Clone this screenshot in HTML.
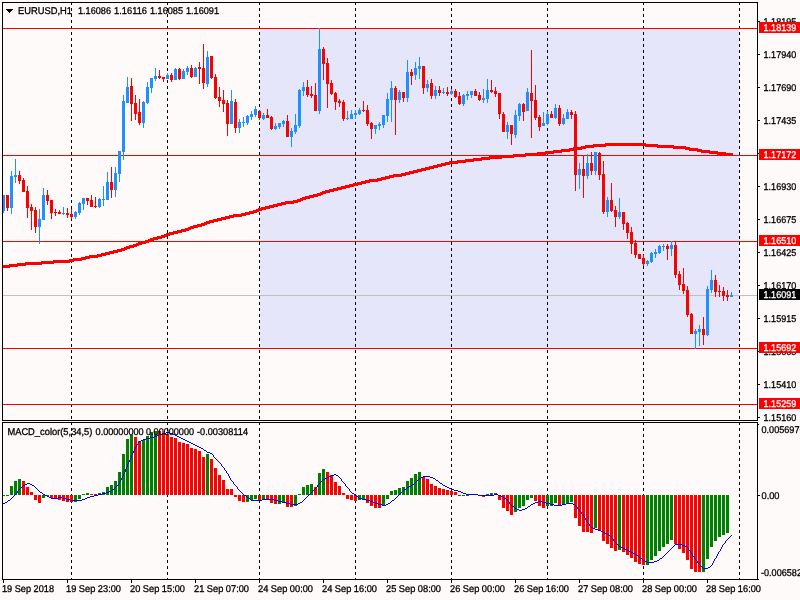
<!DOCTYPE html>
<html lang="en"><head><meta charset="utf-8"><title>EURUSD,H1</title>
<style>html,body{margin:0;padding:0;background:#FFFAFA;overflow:hidden}svg{display:block}text{font-family:"Liberation Sans", sans-serif;font-size:9.8px;fill:#000;stroke:#000;stroke-width:0.3px;text-rendering:geometricPrecision}.w{stroke:#fff}.w{fill:#fff}</style></head><body>
<svg width="800" height="600" viewBox="0 0 800 600">
<rect x="0" y="0" width="800" height="600" fill="#FFFAFA"/>
<g shape-rendering="crispEdges">
<rect x="260" y="29" width="479" height="319" fill="#E6E6FA"/>
<line x1="71.5" y1="2" x2="71.5" y2="420" stroke="#000" stroke-width="1" stroke-dasharray="3 3"/>
<line x1="71.5" y1="422" x2="71.5" y2="580" stroke="#000" stroke-width="1" stroke-dasharray="3 3" stroke-dashoffset="0"/>
<line x1="167.5" y1="2" x2="167.5" y2="420" stroke="#000" stroke-width="1" stroke-dasharray="3 3"/>
<line x1="167.5" y1="422" x2="167.5" y2="580" stroke="#000" stroke-width="1" stroke-dasharray="3 3" stroke-dashoffset="0"/>
<line x1="259.5" y1="2" x2="259.5" y2="420" stroke="#000" stroke-width="1" stroke-dasharray="3 3"/>
<line x1="259.5" y1="422" x2="259.5" y2="580" stroke="#000" stroke-width="1" stroke-dasharray="3 3" stroke-dashoffset="0"/>
<line x1="355.5" y1="2" x2="355.5" y2="420" stroke="#000" stroke-width="1" stroke-dasharray="3 3"/>
<line x1="355.5" y1="422" x2="355.5" y2="580" stroke="#000" stroke-width="1" stroke-dasharray="3 3" stroke-dashoffset="0"/>
<line x1="451.5" y1="2" x2="451.5" y2="420" stroke="#000" stroke-width="1" stroke-dasharray="3 3"/>
<line x1="451.5" y1="422" x2="451.5" y2="580" stroke="#000" stroke-width="1" stroke-dasharray="3 3" stroke-dashoffset="0"/>
<line x1="547.5" y1="2" x2="547.5" y2="420" stroke="#000" stroke-width="1" stroke-dasharray="3 3"/>
<line x1="547.5" y1="422" x2="547.5" y2="580" stroke="#000" stroke-width="1" stroke-dasharray="3 3" stroke-dashoffset="0"/>
<line x1="643.5" y1="2" x2="643.5" y2="420" stroke="#000" stroke-width="1" stroke-dasharray="3 3"/>
<line x1="643.5" y1="422" x2="643.5" y2="580" stroke="#000" stroke-width="1" stroke-dasharray="3 3" stroke-dashoffset="0"/>
<line x1="739.5" y1="2" x2="739.5" y2="420" stroke="#000" stroke-width="1" stroke-dasharray="3 3"/>
<line x1="739.5" y1="422" x2="739.5" y2="580" stroke="#000" stroke-width="1" stroke-dasharray="3 3" stroke-dashoffset="0"/>
<rect x="3" y="295" width="754" height="1" fill="#C0C0C0"/>
<rect x="3" y="28" width="754" height="1" fill="#FF0000"/>
<rect x="3" y="155" width="754" height="1" fill="#FF0000"/>
<rect x="3" y="241" width="754" height="1" fill="#FF0000"/>
<rect x="3" y="348" width="754" height="1" fill="#FF0000"/>
<rect x="3" y="404" width="754" height="1" fill="#FF0000"/>
<g id="candles">
<rect x="3" y="195" width="1" height="18" fill="#1E90FF"/>
<rect x="2" y="195" width="3" height="16" fill="#1E90FF"/>
<rect x="7" y="195" width="1" height="16" fill="#FF0000"/>
<rect x="6" y="195" width="3" height="13" fill="#FF0000"/>
<rect x="11" y="171" width="1" height="43" fill="#1E90FF"/>
<rect x="10" y="176" width="3" height="32" fill="#1E90FF"/>
<rect x="15" y="159" width="1" height="24" fill="#1E90FF"/>
<rect x="14" y="175" width="3" height="2" fill="#1E90FF"/>
<rect x="19" y="171" width="1" height="13" fill="#FF0000"/>
<rect x="18" y="175" width="3" height="6" fill="#FF0000"/>
<rect x="23" y="178" width="1" height="14" fill="#FF0000"/>
<rect x="22" y="180" width="3" height="12" fill="#FF0000"/>
<rect x="27" y="186" width="1" height="32" fill="#FF0000"/>
<rect x="26" y="191" width="3" height="17" fill="#FF0000"/>
<rect x="31" y="204" width="1" height="26" fill="#FF0000"/>
<rect x="30" y="207" width="3" height="4" fill="#FF0000"/>
<rect x="35" y="207" width="1" height="26" fill="#FF0000"/>
<rect x="34" y="210" width="3" height="17" fill="#FF0000"/>
<rect x="39" y="209" width="1" height="35" fill="#1E90FF"/>
<rect x="38" y="219" width="3" height="8" fill="#1E90FF"/>
<rect x="43" y="188" width="1" height="32" fill="#1E90FF"/>
<rect x="42" y="195" width="3" height="25" fill="#1E90FF"/>
<rect x="47" y="190" width="1" height="15" fill="#FF0000"/>
<rect x="46" y="195" width="3" height="6" fill="#FF0000"/>
<rect x="51" y="200" width="1" height="19" fill="#FF0000"/>
<rect x="50" y="200" width="3" height="13" fill="#FF0000"/>
<rect x="55" y="209" width="1" height="7" fill="#FF0000"/>
<rect x="54" y="212" width="3" height="1" fill="#FF0000"/>
<rect x="59" y="210" width="1" height="4" fill="#FF0000"/>
<rect x="58" y="212" width="3" height="2" fill="#FF0000"/>
<rect x="63" y="207" width="1" height="8" fill="#1E90FF"/>
<rect x="62" y="213" width="3" height="1" fill="#1E90FF"/>
<rect x="67" y="208" width="1" height="10" fill="#FF0000"/>
<rect x="66" y="213" width="3" height="2" fill="#FF0000"/>
<rect x="71" y="209" width="1" height="10" fill="#FF0000"/>
<rect x="70" y="214" width="3" height="3" fill="#FF0000"/>
<rect x="75" y="211" width="1" height="8" fill="#1E90FF"/>
<rect x="74" y="212" width="3" height="5" fill="#1E90FF"/>
<rect x="79" y="202" width="1" height="13" fill="#1E90FF"/>
<rect x="78" y="203" width="3" height="10" fill="#1E90FF"/>
<rect x="83" y="198" width="1" height="12" fill="#1E90FF"/>
<rect x="82" y="198" width="3" height="6" fill="#1E90FF"/>
<rect x="87" y="198" width="1" height="7" fill="#FF0000"/>
<rect x="86" y="198" width="3" height="3" fill="#FF0000"/>
<rect x="91" y="195" width="1" height="12" fill="#FF0000"/>
<rect x="90" y="200" width="3" height="7" fill="#FF0000"/>
<rect x="95" y="197" width="1" height="11" fill="#FF0000"/>
<rect x="94" y="206" width="3" height="1" fill="#FF0000"/>
<rect x="99" y="198" width="1" height="10" fill="#1E90FF"/>
<rect x="98" y="199" width="3" height="8" fill="#1E90FF"/>
<rect x="103" y="186" width="1" height="20" fill="#1E90FF"/>
<rect x="102" y="199" width="3" height="1" fill="#1E90FF"/>
<rect x="107" y="172" width="1" height="28" fill="#1E90FF"/>
<rect x="106" y="182" width="3" height="18" fill="#1E90FF"/>
<rect x="111" y="167" width="1" height="31" fill="#FF0000"/>
<rect x="110" y="182" width="3" height="8" fill="#FF0000"/>
<rect x="115" y="167" width="1" height="30" fill="#1E90FF"/>
<rect x="114" y="173" width="3" height="17" fill="#1E90FF"/>
<rect x="119" y="151" width="1" height="31" fill="#1E90FF"/>
<rect x="118" y="151" width="3" height="23" fill="#1E90FF"/>
<rect x="123" y="95" width="1" height="65" fill="#1E90FF"/>
<rect x="122" y="101" width="3" height="51" fill="#1E90FF"/>
<rect x="127" y="77" width="1" height="26" fill="#1E90FF"/>
<rect x="126" y="87" width="3" height="16" fill="#1E90FF"/>
<rect x="131" y="78" width="1" height="43" fill="#FF0000"/>
<rect x="130" y="86" width="3" height="18" fill="#FF0000"/>
<rect x="135" y="95" width="1" height="25" fill="#FF0000"/>
<rect x="134" y="103" width="3" height="11" fill="#FF0000"/>
<rect x="139" y="99" width="1" height="26" fill="#FF0000"/>
<rect x="138" y="112" width="3" height="11" fill="#FF0000"/>
<rect x="143" y="101" width="1" height="27" fill="#1E90FF"/>
<rect x="142" y="102" width="3" height="21" fill="#1E90FF"/>
<rect x="147" y="82" width="1" height="22" fill="#1E90FF"/>
<rect x="146" y="87" width="3" height="16" fill="#1E90FF"/>
<rect x="151" y="78" width="1" height="15" fill="#1E90FF"/>
<rect x="150" y="78" width="3" height="10" fill="#1E90FF"/>
<rect x="155" y="68" width="1" height="13" fill="#1E90FF"/>
<rect x="154" y="76" width="3" height="3" fill="#1E90FF"/>
<rect x="159" y="70" width="1" height="9" fill="#FF0000"/>
<rect x="158" y="76" width="3" height="2" fill="#FF0000"/>
<rect x="163" y="77" width="1" height="5" fill="#FF0000"/>
<rect x="162" y="77" width="3" height="2" fill="#FF0000"/>
<rect x="167" y="73" width="1" height="6" fill="#1E90FF"/>
<rect x="166" y="75" width="3" height="4" fill="#1E90FF"/>
<rect x="171" y="73" width="1" height="9" fill="#FF0000"/>
<rect x="170" y="75" width="3" height="5" fill="#FF0000"/>
<rect x="175" y="68" width="1" height="12" fill="#1E90FF"/>
<rect x="174" y="69" width="3" height="11" fill="#1E90FF"/>
<rect x="179" y="68" width="1" height="12" fill="#FF0000"/>
<rect x="178" y="69" width="3" height="10" fill="#FF0000"/>
<rect x="183" y="69" width="1" height="10" fill="#1E90FF"/>
<rect x="182" y="71" width="3" height="8" fill="#1E90FF"/>
<rect x="187" y="66" width="1" height="9" fill="#1E90FF"/>
<rect x="186" y="68" width="3" height="4" fill="#1E90FF"/>
<rect x="191" y="65" width="1" height="13" fill="#FF0000"/>
<rect x="190" y="68" width="3" height="9" fill="#FF0000"/>
<rect x="195" y="67" width="1" height="10" fill="#1E90FF"/>
<rect x="194" y="68" width="3" height="9" fill="#1E90FF"/>
<rect x="199" y="62" width="1" height="22" fill="#FF0000"/>
<rect x="198" y="67" width="3" height="2" fill="#FF0000"/>
<rect x="203" y="44" width="1" height="45" fill="#FF0000"/>
<rect x="202" y="68" width="3" height="15" fill="#FF0000"/>
<rect x="207" y="51" width="1" height="36" fill="#1E90FF"/>
<rect x="206" y="57" width="3" height="27" fill="#1E90FF"/>
<rect x="211" y="56" width="1" height="23" fill="#FF0000"/>
<rect x="210" y="56" width="3" height="22" fill="#FF0000"/>
<rect x="215" y="74" width="1" height="25" fill="#FF0000"/>
<rect x="214" y="77" width="3" height="21" fill="#FF0000"/>
<rect x="219" y="87" width="1" height="20" fill="#FF0000"/>
<rect x="218" y="97" width="3" height="4" fill="#FF0000"/>
<rect x="223" y="90" width="1" height="22" fill="#FF0000"/>
<rect x="222" y="100" width="3" height="4" fill="#FF0000"/>
<rect x="227" y="100" width="1" height="36" fill="#FF0000"/>
<rect x="226" y="103" width="3" height="21" fill="#FF0000"/>
<rect x="231" y="90" width="1" height="34" fill="#1E90FF"/>
<rect x="230" y="101" width="3" height="23" fill="#1E90FF"/>
<rect x="235" y="99" width="1" height="34" fill="#FF0000"/>
<rect x="234" y="102" width="3" height="26" fill="#FF0000"/>
<rect x="239" y="119" width="1" height="14" fill="#1E90FF"/>
<rect x="238" y="122" width="3" height="6" fill="#1E90FF"/>
<rect x="243" y="117" width="1" height="10" fill="#1E90FF"/>
<rect x="242" y="122" width="3" height="1" fill="#1E90FF"/>
<rect x="247" y="115" width="1" height="10" fill="#1E90FF"/>
<rect x="246" y="116" width="3" height="7" fill="#1E90FF"/>
<rect x="251" y="111" width="1" height="9" fill="#1E90FF"/>
<rect x="250" y="114" width="3" height="3" fill="#1E90FF"/>
<rect x="255" y="106" width="1" height="11" fill="#1E90FF"/>
<rect x="254" y="109" width="3" height="6" fill="#1E90FF"/>
<rect x="259" y="110" width="1" height="10" fill="#FF0000"/>
<rect x="258" y="111" width="3" height="7" fill="#FF0000"/>
<rect x="263" y="113" width="1" height="7" fill="#1E90FF"/>
<rect x="262" y="115" width="3" height="4" fill="#1E90FF"/>
<rect x="267" y="109" width="1" height="9" fill="#FF0000"/>
<rect x="266" y="115" width="3" height="3" fill="#FF0000"/>
<rect x="271" y="116" width="1" height="14" fill="#FF0000"/>
<rect x="270" y="117" width="3" height="12" fill="#FF0000"/>
<rect x="275" y="123" width="1" height="7" fill="#1E90FF"/>
<rect x="274" y="126" width="3" height="3" fill="#1E90FF"/>
<rect x="279" y="123" width="1" height="6" fill="#1E90FF"/>
<rect x="278" y="123" width="3" height="4" fill="#1E90FF"/>
<rect x="283" y="120" width="1" height="7" fill="#1E90FF"/>
<rect x="282" y="121" width="3" height="3" fill="#1E90FF"/>
<rect x="287" y="115" width="1" height="22" fill="#FF0000"/>
<rect x="286" y="121" width="3" height="16" fill="#FF0000"/>
<rect x="291" y="128" width="1" height="19" fill="#1E90FF"/>
<rect x="290" y="131" width="3" height="6" fill="#1E90FF"/>
<rect x="295" y="114" width="1" height="20" fill="#1E90FF"/>
<rect x="294" y="125" width="3" height="7" fill="#1E90FF"/>
<rect x="299" y="89" width="1" height="39" fill="#1E90FF"/>
<rect x="298" y="90" width="3" height="36" fill="#1E90FF"/>
<rect x="303" y="82" width="1" height="14" fill="#1E90FF"/>
<rect x="302" y="87" width="3" height="4" fill="#1E90FF"/>
<rect x="307" y="80" width="1" height="17" fill="#FF0000"/>
<rect x="306" y="87" width="3" height="8" fill="#FF0000"/>
<rect x="311" y="86" width="1" height="12" fill="#FF0000"/>
<rect x="310" y="94" width="3" height="2" fill="#FF0000"/>
<rect x="315" y="83" width="1" height="28" fill="#FF0000"/>
<rect x="314" y="95" width="3" height="16" fill="#FF0000"/>
<rect x="319" y="28" width="1" height="86" fill="#1E90FF"/>
<rect x="318" y="49" width="3" height="62" fill="#1E90FF"/>
<rect x="323" y="47" width="1" height="33" fill="#FF0000"/>
<rect x="322" y="49" width="3" height="15" fill="#FF0000"/>
<rect x="327" y="58" width="1" height="50" fill="#FF0000"/>
<rect x="326" y="63" width="3" height="21" fill="#FF0000"/>
<rect x="331" y="80" width="1" height="15" fill="#FF0000"/>
<rect x="330" y="83" width="3" height="11" fill="#FF0000"/>
<rect x="335" y="92" width="1" height="18" fill="#FF0000"/>
<rect x="334" y="93" width="3" height="9" fill="#FF0000"/>
<rect x="339" y="99" width="1" height="8" fill="#FF0000"/>
<rect x="338" y="101" width="3" height="2" fill="#FF0000"/>
<rect x="343" y="100" width="1" height="21" fill="#FF0000"/>
<rect x="342" y="102" width="3" height="17" fill="#FF0000"/>
<rect x="347" y="111" width="1" height="9" fill="#1E90FF"/>
<rect x="346" y="118" width="3" height="1" fill="#1E90FF"/>
<rect x="351" y="110" width="1" height="9" fill="#1E90FF"/>
<rect x="350" y="114" width="3" height="5" fill="#1E90FF"/>
<rect x="355" y="110" width="1" height="9" fill="#1E90FF"/>
<rect x="354" y="113" width="3" height="2" fill="#1E90FF"/>
<rect x="359" y="108" width="1" height="7" fill="#1E90FF"/>
<rect x="358" y="110" width="3" height="4" fill="#1E90FF"/>
<rect x="363" y="101" width="1" height="11" fill="#FF0000"/>
<rect x="362" y="110" width="3" height="1" fill="#FF0000"/>
<rect x="367" y="105" width="1" height="21" fill="#FF0000"/>
<rect x="366" y="110" width="3" height="14" fill="#FF0000"/>
<rect x="371" y="122" width="1" height="17" fill="#FF0000"/>
<rect x="370" y="123" width="3" height="6" fill="#FF0000"/>
<rect x="375" y="125" width="1" height="9" fill="#1E90FF"/>
<rect x="374" y="125" width="3" height="4" fill="#1E90FF"/>
<rect x="379" y="122" width="1" height="8" fill="#1E90FF"/>
<rect x="378" y="124" width="3" height="2" fill="#1E90FF"/>
<rect x="383" y="115" width="1" height="13" fill="#1E90FF"/>
<rect x="382" y="115" width="3" height="10" fill="#1E90FF"/>
<rect x="387" y="93" width="1" height="29" fill="#1E90FF"/>
<rect x="386" y="99" width="3" height="17" fill="#1E90FF"/>
<rect x="391" y="81" width="1" height="41" fill="#1E90FF"/>
<rect x="390" y="88" width="3" height="12" fill="#1E90FF"/>
<rect x="395" y="86" width="1" height="49" fill="#FF0000"/>
<rect x="394" y="88" width="3" height="12" fill="#FF0000"/>
<rect x="399" y="90" width="1" height="13" fill="#1E90FF"/>
<rect x="398" y="92" width="3" height="8" fill="#1E90FF"/>
<rect x="403" y="92" width="1" height="10" fill="#FF0000"/>
<rect x="402" y="92" width="3" height="6" fill="#FF0000"/>
<rect x="407" y="60" width="1" height="42" fill="#1E90FF"/>
<rect x="406" y="72" width="3" height="26" fill="#1E90FF"/>
<rect x="411" y="69" width="1" height="16" fill="#FF0000"/>
<rect x="410" y="72" width="3" height="4" fill="#FF0000"/>
<rect x="415" y="62" width="1" height="18" fill="#1E90FF"/>
<rect x="414" y="68" width="3" height="7" fill="#1E90FF"/>
<rect x="419" y="57" width="1" height="22" fill="#1E90FF"/>
<rect x="418" y="66" width="3" height="3" fill="#1E90FF"/>
<rect x="423" y="66" width="1" height="28" fill="#FF0000"/>
<rect x="422" y="66" width="3" height="22" fill="#FF0000"/>
<rect x="427" y="80" width="1" height="12" fill="#1E90FF"/>
<rect x="426" y="84" width="3" height="4" fill="#1E90FF"/>
<rect x="431" y="79" width="1" height="20" fill="#FF0000"/>
<rect x="430" y="83" width="3" height="13" fill="#FF0000"/>
<rect x="435" y="86" width="1" height="13" fill="#1E90FF"/>
<rect x="434" y="90" width="3" height="6" fill="#1E90FF"/>
<rect x="439" y="86" width="1" height="10" fill="#FF0000"/>
<rect x="438" y="90" width="3" height="3" fill="#FF0000"/>
<rect x="443" y="88" width="1" height="6" fill="#1E90FF"/>
<rect x="442" y="92" width="3" height="1" fill="#1E90FF"/>
<rect x="447" y="87" width="1" height="9" fill="#FF0000"/>
<rect x="446" y="92" width="3" height="2" fill="#FF0000"/>
<rect x="451" y="89" width="1" height="6" fill="#1E90FF"/>
<rect x="450" y="91" width="3" height="3" fill="#1E90FF"/>
<rect x="455" y="89" width="1" height="9" fill="#FF0000"/>
<rect x="454" y="91" width="3" height="6" fill="#FF0000"/>
<rect x="459" y="92" width="1" height="13" fill="#FF0000"/>
<rect x="458" y="96" width="3" height="8" fill="#FF0000"/>
<rect x="463" y="94" width="1" height="12" fill="#1E90FF"/>
<rect x="462" y="95" width="3" height="9" fill="#1E90FF"/>
<rect x="467" y="91" width="1" height="9" fill="#1E90FF"/>
<rect x="466" y="94" width="3" height="2" fill="#1E90FF"/>
<rect x="471" y="91" width="1" height="7" fill="#1E90FF"/>
<rect x="470" y="91" width="3" height="4" fill="#1E90FF"/>
<rect x="475" y="89" width="1" height="7" fill="#FF0000"/>
<rect x="474" y="91" width="3" height="5" fill="#FF0000"/>
<rect x="479" y="92" width="1" height="9" fill="#FF0000"/>
<rect x="478" y="95" width="3" height="5" fill="#FF0000"/>
<rect x="483" y="89" width="1" height="14" fill="#1E90FF"/>
<rect x="482" y="98" width="3" height="2" fill="#1E90FF"/>
<rect x="487" y="79" width="1" height="24" fill="#1E90FF"/>
<rect x="486" y="90" width="3" height="9" fill="#1E90FF"/>
<rect x="491" y="80" width="1" height="13" fill="#FF0000"/>
<rect x="490" y="90" width="3" height="2" fill="#FF0000"/>
<rect x="495" y="87" width="1" height="10" fill="#FF0000"/>
<rect x="494" y="91" width="3" height="3" fill="#FF0000"/>
<rect x="499" y="93" width="1" height="26" fill="#FF0000"/>
<rect x="498" y="93" width="3" height="21" fill="#FF0000"/>
<rect x="503" y="112" width="1" height="20" fill="#FF0000"/>
<rect x="502" y="114" width="3" height="18" fill="#FF0000"/>
<rect x="507" y="122" width="1" height="17" fill="#1E90FF"/>
<rect x="506" y="125" width="3" height="7" fill="#1E90FF"/>
<rect x="511" y="125" width="1" height="20" fill="#FF0000"/>
<rect x="510" y="125" width="3" height="9" fill="#FF0000"/>
<rect x="515" y="110" width="1" height="28" fill="#1E90FF"/>
<rect x="514" y="115" width="3" height="20" fill="#1E90FF"/>
<rect x="519" y="103" width="1" height="18" fill="#1E90FF"/>
<rect x="518" y="104" width="3" height="12" fill="#1E90FF"/>
<rect x="523" y="103" width="1" height="18" fill="#FF0000"/>
<rect x="522" y="104" width="3" height="8" fill="#FF0000"/>
<rect x="527" y="88" width="1" height="23" fill="#1E90FF"/>
<rect x="526" y="92" width="3" height="19" fill="#1E90FF"/>
<rect x="531" y="50" width="1" height="88" fill="#FF0000"/>
<rect x="530" y="93" width="3" height="8" fill="#FF0000"/>
<rect x="535" y="85" width="1" height="35" fill="#FF0000"/>
<rect x="534" y="100" width="3" height="18" fill="#FF0000"/>
<rect x="539" y="115" width="1" height="16" fill="#FF0000"/>
<rect x="538" y="117" width="3" height="10" fill="#FF0000"/>
<rect x="543" y="112" width="1" height="14" fill="#1E90FF"/>
<rect x="542" y="123" width="3" height="3" fill="#1E90FF"/>
<rect x="547" y="111" width="1" height="14" fill="#1E90FF"/>
<rect x="546" y="114" width="3" height="10" fill="#1E90FF"/>
<rect x="551" y="111" width="1" height="7" fill="#FF0000"/>
<rect x="550" y="114" width="3" height="4" fill="#FF0000"/>
<rect x="555" y="104" width="1" height="15" fill="#1E90FF"/>
<rect x="554" y="108" width="3" height="10" fill="#1E90FF"/>
<rect x="559" y="105" width="1" height="21" fill="#FF0000"/>
<rect x="558" y="108" width="3" height="16" fill="#FF0000"/>
<rect x="563" y="114" width="1" height="11" fill="#1E90FF"/>
<rect x="562" y="118" width="3" height="6" fill="#1E90FF"/>
<rect x="567" y="109" width="1" height="10" fill="#1E90FF"/>
<rect x="566" y="112" width="3" height="7" fill="#1E90FF"/>
<rect x="571" y="110" width="1" height="9" fill="#FF0000"/>
<rect x="570" y="112" width="3" height="3" fill="#FF0000"/>
<rect x="575" y="111" width="1" height="80" fill="#FF0000"/>
<rect x="574" y="114" width="3" height="61" fill="#FF0000"/>
<rect x="579" y="163" width="1" height="26" fill="#1E90FF"/>
<rect x="578" y="169" width="3" height="6" fill="#1E90FF"/>
<rect x="583" y="156" width="1" height="42" fill="#FF0000"/>
<rect x="582" y="169" width="3" height="7" fill="#FF0000"/>
<rect x="587" y="154" width="1" height="25" fill="#1E90FF"/>
<rect x="586" y="163" width="3" height="13" fill="#1E90FF"/>
<rect x="591" y="152" width="1" height="23" fill="#FF0000"/>
<rect x="590" y="163" width="3" height="8" fill="#FF0000"/>
<rect x="595" y="152" width="1" height="23" fill="#1E90FF"/>
<rect x="594" y="152" width="3" height="19" fill="#1E90FF"/>
<rect x="599" y="152" width="1" height="28" fill="#FF0000"/>
<rect x="598" y="153" width="3" height="22" fill="#FF0000"/>
<rect x="603" y="161" width="1" height="53" fill="#FF0000"/>
<rect x="602" y="174" width="3" height="38" fill="#FF0000"/>
<rect x="607" y="197" width="1" height="20" fill="#1E90FF"/>
<rect x="606" y="200" width="3" height="12" fill="#1E90FF"/>
<rect x="611" y="183" width="1" height="29" fill="#FF0000"/>
<rect x="610" y="200" width="3" height="11" fill="#FF0000"/>
<rect x="615" y="206" width="1" height="21" fill="#FF0000"/>
<rect x="614" y="210" width="3" height="7" fill="#FF0000"/>
<rect x="619" y="198" width="1" height="21" fill="#1E90FF"/>
<rect x="618" y="212" width="3" height="5" fill="#1E90FF"/>
<rect x="623" y="212" width="1" height="18" fill="#FF0000"/>
<rect x="622" y="212" width="3" height="12" fill="#FF0000"/>
<rect x="627" y="222" width="1" height="17" fill="#FF0000"/>
<rect x="626" y="223" width="3" height="10" fill="#FF0000"/>
<rect x="631" y="227" width="1" height="27" fill="#FF0000"/>
<rect x="630" y="232" width="3" height="12" fill="#FF0000"/>
<rect x="635" y="240" width="1" height="18" fill="#FF0000"/>
<rect x="634" y="243" width="3" height="12" fill="#FF0000"/>
<rect x="639" y="254" width="1" height="5" fill="#FF0000"/>
<rect x="638" y="254" width="3" height="5" fill="#FF0000"/>
<rect x="643" y="255" width="1" height="11" fill="#FF0000"/>
<rect x="642" y="258" width="3" height="6" fill="#FF0000"/>
<rect x="647" y="260" width="1" height="6" fill="#1E90FF"/>
<rect x="646" y="261" width="3" height="3" fill="#1E90FF"/>
<rect x="651" y="252" width="1" height="11" fill="#1E90FF"/>
<rect x="650" y="253" width="3" height="9" fill="#1E90FF"/>
<rect x="655" y="249" width="1" height="9" fill="#1E90FF"/>
<rect x="654" y="252" width="3" height="2" fill="#1E90FF"/>
<rect x="659" y="245" width="1" height="9" fill="#1E90FF"/>
<rect x="658" y="246" width="3" height="7" fill="#1E90FF"/>
<rect x="663" y="244" width="1" height="7" fill="#1E90FF"/>
<rect x="662" y="246" width="3" height="1" fill="#1E90FF"/>
<rect x="667" y="244" width="1" height="16" fill="#FF0000"/>
<rect x="666" y="246" width="3" height="3" fill="#FF0000"/>
<rect x="671" y="241" width="1" height="15" fill="#1E90FF"/>
<rect x="670" y="245" width="3" height="4" fill="#1E90FF"/>
<rect x="675" y="242" width="1" height="36" fill="#FF0000"/>
<rect x="674" y="245" width="3" height="30" fill="#FF0000"/>
<rect x="679" y="271" width="1" height="19" fill="#FF0000"/>
<rect x="678" y="274" width="3" height="11" fill="#FF0000"/>
<rect x="683" y="268" width="1" height="26" fill="#FF0000"/>
<rect x="682" y="284" width="3" height="7" fill="#FF0000"/>
<rect x="687" y="286" width="1" height="31" fill="#FF0000"/>
<rect x="686" y="290" width="3" height="25" fill="#FF0000"/>
<rect x="691" y="313" width="1" height="21" fill="#FF0000"/>
<rect x="690" y="314" width="3" height="20" fill="#FF0000"/>
<rect x="695" y="329" width="1" height="20" fill="#1E90FF"/>
<rect x="694" y="331" width="3" height="3" fill="#1E90FF"/>
<rect x="699" y="325" width="1" height="21" fill="#1E90FF"/>
<rect x="698" y="329" width="3" height="3" fill="#1E90FF"/>
<rect x="703" y="317" width="1" height="28" fill="#FF0000"/>
<rect x="702" y="329" width="3" height="6" fill="#FF0000"/>
<rect x="707" y="286" width="1" height="50" fill="#1E90FF"/>
<rect x="706" y="289" width="3" height="46" fill="#1E90FF"/>
<rect x="711" y="270" width="1" height="23" fill="#1E90FF"/>
<rect x="710" y="280" width="3" height="10" fill="#1E90FF"/>
<rect x="715" y="275" width="1" height="22" fill="#FF0000"/>
<rect x="714" y="280" width="3" height="12" fill="#FF0000"/>
<rect x="719" y="285" width="1" height="12" fill="#FF0000"/>
<rect x="718" y="291" width="3" height="1" fill="#FF0000"/>
<rect x="723" y="287" width="1" height="14" fill="#FF0000"/>
<rect x="722" y="291" width="3" height="5" fill="#FF0000"/>
<rect x="727" y="290" width="1" height="11" fill="#FF0000"/>
<rect x="726" y="295" width="3" height="2" fill="#FF0000"/>
<rect x="731" y="292" width="1" height="5" fill="#1E90FF"/>
<rect x="730" y="295" width="3" height="2" fill="#1E90FF"/>
</g>
<path d="M3 265h6v3h-6zM9 264h1v4h-1zM10 264h7v3h-7zM17 263h1v4h-1zM18 263h7v3h-7zM25 262h1v4h-1zM26 262h15v3h-15zM41 261h1v4h-1zM42 261h11v3h-11zM53 260h1v4h-1zM54 260h15v3h-15zM69 259h1v4h-1zM70 259h3v3h-3zM73 258h1v4h-1zM74 258h7v3h-7zM81 257h1v4h-1zM82 257h3v3h-3zM85 256h1v4h-1zM86 256h3v3h-3zM89 255h1v4h-1zM90 255h7v3h-7zM97 254h1v4h-1zM98 254h3v3h-3zM101 253h1v4h-1zM102 253h3v3h-3zM105 252h1v4h-1zM106 252h3v3h-3zM109 251h1v4h-1zM110 251h3v3h-3zM113 250h1v4h-1zM114 250h3v3h-3zM117 249h1v4h-1zM118 249h3v3h-3zM121 248h1v4h-1zM122 248h2v3h-2zM124 247h1v4h-1zM125 247h1v3h-1zM126 246h1v4h-1zM127 246h2v3h-2zM129 245h1v4h-1zM130 245h3v3h-3zM133 244h1v4h-1zM134 244h2v3h-2zM136 243h1v4h-1zM137 243h1v3h-1zM138 242h1v4h-1zM139 242h2v3h-2zM141 241h1v4h-1zM142 241h3v3h-3zM145 240h1v4h-1zM146 240h2v3h-2zM148 239h1v4h-1zM149 239h1v3h-1zM150 238h1v4h-1zM151 238h2v3h-2zM153 237h1v4h-1zM154 237h3v3h-3zM157 236h1v4h-1zM158 236h3v3h-3zM161 235h1v4h-1zM162 235h2v3h-2zM164 234h1v4h-1zM165 234h1v3h-1zM166 233h1v4h-1zM167 233h2v3h-2zM169 232h1v4h-1zM170 232h3v3h-3zM173 231h1v4h-1zM174 231h3v3h-3zM177 230h1v4h-1zM178 230h3v3h-3zM181 229h1v4h-1zM182 229h3v3h-3zM185 228h1v4h-1zM186 228h2v3h-2zM188 227h1v4h-1zM189 227h1v3h-1zM190 226h1v4h-1zM191 226h2v3h-2zM193 225h1v4h-1zM194 225h3v3h-3zM197 224h1v4h-1zM198 224h3v3h-3zM201 223h1v4h-1zM202 223h2v3h-2zM204 222h1v4h-1zM205 222h1v3h-1zM206 221h1v4h-1zM207 221h2v3h-2zM209 220h1v4h-1zM210 220h3v3h-3zM213 219h1v4h-1zM214 219h3v3h-3zM217 218h1v4h-1zM218 218h3v3h-3zM221 217h1v4h-1zM222 217h3v3h-3zM225 216h1v4h-1zM226 216h3v3h-3zM229 215h1v4h-1zM230 215h3v3h-3zM233 214h1v4h-1zM234 214h7v3h-7zM241 213h1v4h-1zM242 213h3v3h-3zM245 212h1v4h-1zM246 212h3v3h-3zM249 211h1v4h-1zM250 211h3v3h-3zM253 210h1v4h-1zM254 210h2v3h-2zM256 209h1v4h-1zM257 209h1v3h-1zM258 208h1v4h-1zM259 208h2v3h-2zM261 207h1v4h-1zM262 207h3v3h-3zM265 206h1v4h-1zM266 206h3v3h-3zM269 205h1v4h-1zM270 205h3v3h-3zM273 204h1v4h-1zM274 204h3v3h-3zM277 203h1v4h-1zM278 203h3v3h-3zM281 202h1v4h-1zM282 202h3v3h-3zM285 201h1v4h-1zM286 201h7v3h-7zM293 200h1v4h-1zM294 200h3v3h-3zM297 199h1v4h-1zM298 199h2v3h-2zM300 198h1v4h-1zM301 198h1v3h-1zM302 197h1v4h-1zM303 197h2v3h-2zM305 196h1v4h-1zM306 196h3v3h-3zM309 195h1v4h-1zM310 195h3v3h-3zM313 194h1v4h-1zM314 194h3v3h-3zM317 193h1v4h-1zM318 193h2v3h-2zM320 192h1v4h-1zM321 192h1v3h-1zM322 191h1v4h-1zM323 191h2v3h-2zM325 190h1v4h-1zM326 190h3v3h-3zM329 189h1v4h-1zM330 189h3v3h-3zM333 188h1v4h-1zM334 188h3v3h-3zM337 187h1v4h-1zM338 187h3v3h-3zM341 186h1v4h-1zM342 186h3v3h-3zM345 185h1v4h-1zM346 185h3v3h-3zM349 184h1v4h-1zM350 184h3v3h-3zM353 183h1v4h-1zM354 183h3v3h-3zM357 182h1v4h-1zM358 182h3v3h-3zM361 181h1v4h-1zM362 181h3v3h-3zM365 180h1v4h-1zM366 180h3v3h-3zM369 179h1v4h-1zM370 179h7v3h-7zM377 178h1v4h-1zM378 178h3v3h-3zM381 177h1v4h-1zM382 177h3v3h-3zM385 176h1v4h-1zM386 176h3v3h-3zM389 175h1v4h-1zM390 175h3v3h-3zM393 174h1v4h-1zM394 174h7v3h-7zM401 173h1v4h-1zM402 173h3v3h-3zM405 172h1v4h-1zM406 172h3v3h-3zM409 171h1v4h-1zM410 171h3v3h-3zM413 170h1v4h-1zM414 170h3v3h-3zM417 169h1v4h-1zM418 169h3v3h-3zM421 168h1v4h-1zM422 168h3v3h-3zM425 167h1v4h-1zM426 167h3v3h-3zM429 166h1v4h-1zM430 166h3v3h-3zM433 165h1v4h-1zM434 165h3v3h-3zM437 164h1v4h-1zM438 164h3v3h-3zM441 163h1v4h-1zM442 163h3v3h-3zM445 162h1v4h-1zM446 162h3v3h-3zM449 161h1v4h-1zM450 161h7v3h-7zM457 160h1v4h-1zM458 160h7v3h-7zM465 159h1v4h-1zM466 159h7v3h-7zM473 158h1v4h-1zM474 158h7v3h-7zM481 157h1v4h-1zM482 157h7v3h-7zM489 156h1v4h-1zM490 156h11v3h-11zM501 155h1v4h-1zM502 155h11v3h-11zM513 154h1v4h-1zM514 154h11v3h-11zM525 153h1v4h-1zM526 153h11v3h-11zM537 152h1v4h-1zM538 152h7v3h-7zM545 151h1v4h-1zM546 151h7v3h-7zM553 150h1v4h-1zM554 150h7v3h-7zM561 149h1v4h-1zM562 149h7v3h-7zM569 148h1v4h-1zM570 148h3v3h-3zM573 147h1v4h-1zM574 147h7v3h-7zM581 146h1v4h-1zM582 146h3v3h-3zM585 145h1v4h-1zM586 145h7v3h-7zM593 144h1v4h-1zM594 144h11v3h-11zM605 143h1v4h-1zM606 143h39v3h-39zM645 143h1v4h-1zM646 144h11v3h-11zM657 144h1v4h-1zM658 145h15v3h-15zM673 145h1v4h-1zM674 146h11v3h-11zM685 146h1v4h-1zM686 147h3v3h-3zM689 147h1v4h-1zM690 148h7v3h-7zM697 148h1v4h-1zM698 149h3v3h-3zM701 149h1v4h-1zM702 150h7v3h-7zM709 150h1v4h-1zM710 151h7v3h-7zM717 151h1v4h-1zM718 152h7v3h-7zM725 152h1v4h-1zM726 153h7v3h-7z" fill="#FF0000"/>
<g id="macd">
<rect x="2" y="495" width="3" height="1" fill="#008000"/>
<rect x="6" y="495" width="3" height="1" fill="#008000"/>
<rect x="10" y="486" width="3" height="9" fill="#008000"/>
<rect x="14" y="481" width="3" height="14" fill="#008000"/>
<rect x="18" y="479" width="3" height="16" fill="#008000"/>
<rect x="22" y="481" width="3" height="14" fill="#FF0000"/>
<rect x="26" y="487" width="3" height="8" fill="#FF0000"/>
<rect x="30" y="492" width="3" height="3" fill="#FF0000"/>
<rect x="34" y="495" width="3" height="5" fill="#FF0000"/>
<rect x="38" y="495" width="3" height="8" fill="#FF0000"/>
<rect x="42" y="495" width="3" height="3" fill="#008000"/>
<rect x="46" y="495" width="3" height="1" fill="#008000"/>
<rect x="50" y="495" width="3" height="3" fill="#FF0000"/>
<rect x="54" y="495" width="3" height="3" fill="#FF0000"/>
<rect x="58" y="495" width="3" height="5" fill="#FF0000"/>
<rect x="62" y="495" width="3" height="6" fill="#FF0000"/>
<rect x="66" y="495" width="3" height="7" fill="#FF0000"/>
<rect x="70" y="495" width="3" height="7" fill="#FF0000"/>
<rect x="74" y="495" width="3" height="7" fill="#008000"/>
<rect x="78" y="495" width="3" height="4" fill="#008000"/>
<rect x="82" y="494" width="3" height="1" fill="#008000"/>
<rect x="86" y="493" width="3" height="2" fill="#008000"/>
<rect x="90" y="494" width="3" height="1" fill="#FF0000"/>
<rect x="94" y="494" width="3" height="1" fill="#FF0000"/>
<rect x="98" y="493" width="3" height="2" fill="#008000"/>
<rect x="102" y="492" width="3" height="3" fill="#008000"/>
<rect x="106" y="487" width="3" height="8" fill="#008000"/>
<rect x="110" y="485" width="3" height="10" fill="#008000"/>
<rect x="114" y="481" width="3" height="14" fill="#008000"/>
<rect x="118" y="472" width="3" height="23" fill="#008000"/>
<rect x="122" y="454" width="3" height="41" fill="#008000"/>
<rect x="126" y="439" width="3" height="56" fill="#008000"/>
<rect x="130" y="435" width="3" height="60" fill="#008000"/>
<rect x="134" y="437" width="3" height="58" fill="#FF0000"/>
<rect x="138" y="441" width="3" height="54" fill="#FF0000"/>
<rect x="142" y="440" width="3" height="55" fill="#008000"/>
<rect x="146" y="436" width="3" height="59" fill="#008000"/>
<rect x="150" y="432" width="3" height="63" fill="#008000"/>
<rect x="154" y="431" width="3" height="64" fill="#008000"/>
<rect x="158" y="431" width="3" height="64" fill="#FF0000"/>
<rect x="162" y="433" width="3" height="62" fill="#FF0000"/>
<rect x="166" y="434" width="3" height="61" fill="#FF0000"/>
<rect x="170" y="437" width="3" height="58" fill="#FF0000"/>
<rect x="174" y="438" width="3" height="57" fill="#FF0000"/>
<rect x="178" y="442" width="3" height="53" fill="#FF0000"/>
<rect x="182" y="443" width="3" height="52" fill="#FF0000"/>
<rect x="186" y="444" width="3" height="51" fill="#FF0000"/>
<rect x="190" y="448" width="3" height="47" fill="#FF0000"/>
<rect x="194" y="449" width="3" height="46" fill="#FF0000"/>
<rect x="198" y="451" width="3" height="44" fill="#FF0000"/>
<rect x="202" y="457" width="3" height="38" fill="#FF0000"/>
<rect x="206" y="454" width="3" height="41" fill="#008000"/>
<rect x="210" y="459" width="3" height="36" fill="#FF0000"/>
<rect x="214" y="468" width="3" height="27" fill="#FF0000"/>
<rect x="218" y="475" width="3" height="20" fill="#FF0000"/>
<rect x="222" y="480" width="3" height="15" fill="#FF0000"/>
<rect x="226" y="489" width="3" height="6" fill="#FF0000"/>
<rect x="230" y="489" width="3" height="6" fill="#FF0000"/>
<rect x="234" y="495" width="3" height="2" fill="#FF0000"/>
<rect x="238" y="495" width="3" height="6" fill="#FF0000"/>
<rect x="242" y="495" width="3" height="7" fill="#FF0000"/>
<rect x="246" y="495" width="3" height="7" fill="#008000"/>
<rect x="250" y="495" width="3" height="5" fill="#008000"/>
<rect x="254" y="495" width="3" height="4" fill="#008000"/>
<rect x="258" y="495" width="3" height="5" fill="#FF0000"/>
<rect x="262" y="495" width="3" height="4" fill="#008000"/>
<rect x="266" y="495" width="3" height="4" fill="#FF0000"/>
<rect x="270" y="495" width="3" height="8" fill="#FF0000"/>
<rect x="274" y="495" width="3" height="9" fill="#FF0000"/>
<rect x="278" y="495" width="3" height="9" fill="#008000"/>
<rect x="282" y="495" width="3" height="7" fill="#008000"/>
<rect x="286" y="495" width="3" height="12" fill="#FF0000"/>
<rect x="290" y="495" width="3" height="12" fill="#FF0000"/>
<rect x="294" y="495" width="3" height="11" fill="#008000"/>
<rect x="298" y="494" width="3" height="1" fill="#008000"/>
<rect x="302" y="487" width="3" height="8" fill="#008000"/>
<rect x="306" y="485" width="3" height="10" fill="#008000"/>
<rect x="310" y="484" width="3" height="11" fill="#008000"/>
<rect x="314" y="487" width="3" height="8" fill="#FF0000"/>
<rect x="318" y="473" width="3" height="22" fill="#008000"/>
<rect x="322" y="469" width="3" height="26" fill="#008000"/>
<rect x="326" y="472" width="3" height="23" fill="#FF0000"/>
<rect x="330" y="475" width="3" height="20" fill="#FF0000"/>
<rect x="334" y="482" width="3" height="13" fill="#FF0000"/>
<rect x="338" y="486" width="3" height="9" fill="#FF0000"/>
<rect x="342" y="493" width="3" height="2" fill="#FF0000"/>
<rect x="346" y="495" width="3" height="4" fill="#FF0000"/>
<rect x="350" y="495" width="3" height="5" fill="#FF0000"/>
<rect x="354" y="495" width="3" height="6" fill="#FF0000"/>
<rect x="358" y="495" width="3" height="5" fill="#008000"/>
<rect x="362" y="495" width="3" height="4" fill="#008000"/>
<rect x="366" y="495" width="3" height="8" fill="#FF0000"/>
<rect x="370" y="495" width="3" height="11" fill="#FF0000"/>
<rect x="374" y="495" width="3" height="13" fill="#FF0000"/>
<rect x="378" y="495" width="3" height="13" fill="#FF0000"/>
<rect x="382" y="495" width="3" height="10" fill="#008000"/>
<rect x="386" y="495" width="3" height="4" fill="#008000"/>
<rect x="390" y="491" width="3" height="4" fill="#008000"/>
<rect x="394" y="490" width="3" height="5" fill="#008000"/>
<rect x="398" y="488" width="3" height="7" fill="#008000"/>
<rect x="402" y="487" width="3" height="8" fill="#008000"/>
<rect x="406" y="481" width="3" height="14" fill="#008000"/>
<rect x="410" y="478" width="3" height="17" fill="#008000"/>
<rect x="414" y="474" width="3" height="21" fill="#008000"/>
<rect x="418" y="472" width="3" height="23" fill="#008000"/>
<rect x="422" y="477" width="3" height="18" fill="#FF0000"/>
<rect x="426" y="479" width="3" height="16" fill="#FF0000"/>
<rect x="430" y="484" width="3" height="11" fill="#FF0000"/>
<rect x="434" y="486" width="3" height="9" fill="#FF0000"/>
<rect x="438" y="488" width="3" height="7" fill="#FF0000"/>
<rect x="442" y="489" width="3" height="6" fill="#FF0000"/>
<rect x="446" y="490" width="3" height="5" fill="#FF0000"/>
<rect x="450" y="491" width="3" height="4" fill="#FF0000"/>
<rect x="454" y="492" width="3" height="3" fill="#FF0000"/>
<rect x="458" y="495" width="3" height="1" fill="#FF0000"/>
<rect x="462" y="495" width="3" height="1" fill="#008000"/>
<rect x="466" y="495" width="3" height="1" fill="#008000"/>
<rect x="470" y="494" width="3" height="1" fill="#008000"/>
<rect x="474" y="494" width="3" height="1" fill="#008000"/>
<rect x="478" y="495" width="3" height="1" fill="#FF0000"/>
<rect x="482" y="495" width="3" height="2" fill="#FF0000"/>
<rect x="486" y="494" width="3" height="1" fill="#008000"/>
<rect x="490" y="493" width="3" height="2" fill="#008000"/>
<rect x="494" y="493" width="3" height="2" fill="#FF0000"/>
<rect x="498" y="495" width="3" height="5" fill="#FF0000"/>
<rect x="502" y="495" width="3" height="13" fill="#FF0000"/>
<rect x="506" y="495" width="3" height="16" fill="#FF0000"/>
<rect x="510" y="495" width="3" height="20" fill="#FF0000"/>
<rect x="514" y="495" width="3" height="17" fill="#008000"/>
<rect x="518" y="495" width="3" height="13" fill="#008000"/>
<rect x="522" y="495" width="3" height="11" fill="#008000"/>
<rect x="526" y="495" width="3" height="5" fill="#008000"/>
<rect x="530" y="495" width="3" height="3" fill="#008000"/>
<rect x="534" y="495" width="3" height="6" fill="#FF0000"/>
<rect x="538" y="495" width="3" height="11" fill="#FF0000"/>
<rect x="542" y="495" width="3" height="13" fill="#FF0000"/>
<rect x="546" y="495" width="3" height="11" fill="#008000"/>
<rect x="550" y="495" width="3" height="11" fill="#008000"/>
<rect x="554" y="495" width="3" height="8" fill="#008000"/>
<rect x="558" y="495" width="3" height="10" fill="#FF0000"/>
<rect x="562" y="495" width="3" height="9" fill="#008000"/>
<rect x="566" y="495" width="3" height="8" fill="#008000"/>
<rect x="570" y="495" width="3" height="7" fill="#008000"/>
<rect x="574" y="495" width="3" height="23" fill="#FF0000"/>
<rect x="578" y="495" width="3" height="31" fill="#FF0000"/>
<rect x="582" y="495" width="3" height="37" fill="#FF0000"/>
<rect x="586" y="495" width="3" height="37" fill="#FF0000"/>
<rect x="590" y="495" width="3" height="38" fill="#FF0000"/>
<rect x="594" y="495" width="3" height="33" fill="#008000"/>
<rect x="598" y="495" width="3" height="36" fill="#FF0000"/>
<rect x="602" y="495" width="3" height="46" fill="#FF0000"/>
<rect x="606" y="495" width="3" height="49" fill="#FF0000"/>
<rect x="610" y="495" width="3" height="53" fill="#FF0000"/>
<rect x="614" y="495" width="3" height="56" fill="#FF0000"/>
<rect x="618" y="495" width="3" height="55" fill="#008000"/>
<rect x="622" y="495" width="3" height="57" fill="#FF0000"/>
<rect x="626" y="495" width="3" height="60" fill="#FF0000"/>
<rect x="630" y="495" width="3" height="63" fill="#FF0000"/>
<rect x="634" y="495" width="3" height="67" fill="#FF0000"/>
<rect x="638" y="495" width="3" height="69" fill="#FF0000"/>
<rect x="642" y="495" width="3" height="70" fill="#FF0000"/>
<rect x="646" y="495" width="3" height="70" fill="#008000"/>
<rect x="650" y="495" width="3" height="65" fill="#008000"/>
<rect x="654" y="495" width="3" height="61" fill="#008000"/>
<rect x="658" y="495" width="3" height="56" fill="#008000"/>
<rect x="662" y="495" width="3" height="52" fill="#008000"/>
<rect x="666" y="495" width="3" height="49" fill="#008000"/>
<rect x="670" y="495" width="3" height="45" fill="#008000"/>
<rect x="674" y="495" width="3" height="49" fill="#FF0000"/>
<rect x="678" y="495" width="3" height="54" fill="#FF0000"/>
<rect x="682" y="495" width="3" height="58" fill="#FF0000"/>
<rect x="686" y="495" width="3" height="65" fill="#FF0000"/>
<rect x="690" y="495" width="3" height="74" fill="#FF0000"/>
<rect x="694" y="495" width="3" height="77" fill="#FF0000"/>
<rect x="698" y="495" width="3" height="77" fill="#FF0000"/>
<rect x="702" y="495" width="3" height="77" fill="#008000"/>
<rect x="706" y="495" width="3" height="64" fill="#008000"/>
<rect x="710" y="495" width="3" height="52" fill="#008000"/>
<rect x="714" y="495" width="3" height="46" fill="#008000"/>
<rect x="718" y="495" width="3" height="42" fill="#008000"/>
<rect x="722" y="495" width="3" height="40" fill="#008000"/>
<rect x="726" y="495" width="3" height="38" fill="#008000"/>
</g>
<path d="M3 503h1v1h-1zM4 503h1v1h-1zM5 502h1v1h-1zM6 502h1v1h-1zM7 501h1v1h-1zM8 500h1v1h-1zM9 500h1v1h-1zM10 499h1v1h-1zM11 498h1v1h-1zM12 497h1v1h-1zM13 496h1v1h-1zM14 495h1v1h-1zM15 494h1v1h-1zM16 493h1v1h-1zM17 491h1v2h-1zM18 490h1v1h-1zM19 489h1v1h-1zM20 488h1v1h-1zM21 487h1v1h-1zM22 486h1v1h-1zM23 485h1v1h-1zM24 485h1v1h-1zM25 484h1v1h-1zM26 484h1v1h-1zM27 483h1v1h-1zM28 483h1v1h-1zM29 483h1v1h-1zM30 484h1v1h-1zM31 484h1v1h-1zM32 485h1v1h-1zM33 485h1v1h-1zM34 486h1v1h-1zM35 487h1v1h-1zM36 488h1v1h-1zM37 489h1v1h-1zM38 490h1v1h-1zM39 491h1v1h-1zM40 492h1v1h-1zM41 492h1v1h-1zM42 493h1v1h-1zM43 494h1v1h-1zM44 494h1v1h-1zM45 495h1v1h-1zM46 495h1v1h-1zM47 496h1v1h-1zM48 496h1v1h-1zM49 497h1v1h-1zM50 497h1v1h-1zM51 498h1v1h-1zM52 498h1v1h-1zM53 498h1v1h-1zM54 498h1v1h-1zM55 498h1v1h-1zM56 498h1v1h-1zM57 498h1v1h-1zM58 497h1v1h-1zM59 497h1v1h-1zM60 497h1v1h-1zM61 497h1v1h-1zM62 498h1v1h-1zM63 498h1v1h-1zM64 498h1v1h-1zM65 498h1v1h-1zM66 499h1v1h-1zM67 499h1v1h-1zM68 499h1v1h-1zM69 499h1v1h-1zM70 500h1v1h-1zM71 500h1v1h-1zM72 500h1v1h-1zM73 500h1v1h-1zM74 500h1v1h-1zM75 500h1v1h-1zM76 500h1v1h-1zM77 500h1v1h-1zM78 500h1v1h-1zM79 500h1v1h-1zM80 500h1v1h-1zM81 500h1v1h-1zM82 499h1v1h-1zM83 499h1v1h-1zM84 499h1v1h-1zM85 498h1v1h-1zM86 498h1v1h-1zM87 497h1v1h-1zM88 497h1v1h-1zM89 497h1v1h-1zM90 496h1v1h-1zM91 496h1v1h-1zM92 496h1v1h-1zM93 496h1v1h-1zM94 495h1v1h-1zM95 495h1v1h-1zM96 495h1v1h-1zM97 495h1v1h-1zM98 494h1v1h-1zM99 494h1v1h-1zM100 494h1v1h-1zM101 494h1v1h-1zM102 493h1v1h-1zM103 493h1v1h-1zM104 493h1v1h-1zM105 493h1v1h-1zM106 492h1v1h-1zM107 492h1v1h-1zM108 492h1v1h-1zM109 491h1v1h-1zM110 491h1v1h-1zM111 490h1v1h-1zM112 489h1v1h-1zM113 489h1v1h-1zM114 488h1v1h-1zM115 487h1v1h-1zM116 486h1v1h-1zM117 485h1v1h-1zM118 484h1v1h-1zM119 482h1v2h-1zM120 480h1v2h-1zM121 478h1v2h-1zM122 476h1v2h-1zM123 474h1v2h-1zM124 472h1v2h-1zM125 469h1v3h-1zM126 467h1v2h-1zM127 464h1v3h-1zM128 462h1v2h-1zM129 460h1v2h-1zM130 458h1v2h-1zM131 455h1v3h-1zM132 453h1v2h-1zM133 451h1v2h-1zM134 449h1v2h-1zM135 447h1v2h-1zM136 445h1v2h-1zM137 444h1v1h-1zM138 442h1v2h-1zM139 441h1v1h-1zM140 441h1v1h-1zM141 440h1v1h-1zM142 440h1v1h-1zM143 439h1v1h-1zM144 439h1v1h-1zM145 439h1v1h-1zM146 438h1v1h-1zM147 438h1v1h-1zM148 438h1v1h-1zM149 438h1v1h-1zM150 437h1v1h-1zM151 437h1v1h-1zM152 437h1v1h-1zM153 437h1v1h-1zM154 436h1v1h-1zM155 436h1v1h-1zM156 436h1v1h-1zM157 435h1v1h-1zM158 435h1v1h-1zM159 434h1v1h-1zM160 434h1v1h-1zM161 434h1v1h-1zM162 433h1v1h-1zM163 433h1v1h-1zM164 433h1v1h-1zM165 433h1v1h-1zM166 432h1v1h-1zM167 432h1v1h-1zM168 432h1v1h-1zM169 432h1v1h-1zM170 433h1v1h-1zM171 433h1v1h-1zM172 433h1v1h-1zM173 434h1v1h-1zM174 434h1v1h-1zM175 435h1v1h-1zM176 435h1v1h-1zM177 436h1v1h-1zM178 436h1v1h-1zM179 437h1v1h-1zM180 437h1v1h-1zM181 438h1v1h-1zM182 438h1v1h-1zM183 439h1v1h-1zM184 439h1v1h-1zM185 440h1v1h-1zM186 440h1v1h-1zM187 441h1v1h-1zM188 441h1v1h-1zM189 442h1v1h-1zM190 442h1v1h-1zM191 443h1v1h-1zM192 443h1v1h-1zM193 444h1v1h-1zM194 444h1v1h-1zM195 445h1v1h-1zM196 445h1v1h-1zM197 446h1v1h-1zM198 446h1v1h-1zM199 447h1v1h-1zM200 447h1v1h-1zM201 448h1v1h-1zM202 448h1v1h-1zM203 449h1v1h-1zM204 450h1v1h-1zM205 450h1v1h-1zM206 451h1v1h-1zM207 452h1v1h-1zM208 452h1v1h-1zM209 452h1v1h-1zM210 453h1v1h-1zM211 453h1v1h-1zM212 454h1v1h-1zM213 455h1v2h-1zM214 457h1v1h-1zM215 458h1v1h-1zM216 459h1v1h-1zM217 460h1v1h-1zM218 461h1v1h-1zM219 462h1v1h-1zM220 463h1v1h-1zM221 464h1v2h-1zM222 466h1v1h-1zM223 467h1v1h-1zM224 468h1v2h-1zM225 470h1v1h-1zM226 471h1v2h-1zM227 473h1v1h-1zM228 474h1v2h-1zM229 476h1v2h-1zM230 478h1v2h-1zM231 480h1v1h-1zM232 481h1v1h-1zM233 482h1v2h-1zM234 484h1v1h-1zM235 485h1v1h-1zM236 486h1v1h-1zM237 487h1v2h-1zM238 489h1v1h-1zM239 490h1v1h-1zM240 491h1v1h-1zM241 492h1v1h-1zM242 493h1v1h-1zM243 494h1v1h-1zM244 495h1v1h-1zM245 495h1v1h-1zM246 496h1v1h-1zM247 497h1v1h-1zM248 498h1v1h-1zM249 498h1v1h-1zM250 499h1v1h-1zM251 500h1v1h-1zM252 500h1v1h-1zM253 500h1v1h-1zM254 500h1v1h-1zM255 500h1v1h-1zM256 500h1v1h-1zM257 500h1v1h-1zM258 500h1v1h-1zM259 500h1v1h-1zM260 500h1v1h-1zM261 500h1v1h-1zM262 499h1v1h-1zM263 499h1v1h-1zM264 499h1v1h-1zM265 499h1v1h-1zM266 499h1v1h-1zM267 499h1v1h-1zM268 499h1v1h-1zM269 499h1v1h-1zM270 499h1v1h-1zM271 499h1v1h-1zM272 499h1v1h-1zM273 499h1v1h-1zM274 500h1v1h-1zM275 500h1v1h-1zM276 500h1v1h-1zM277 500h1v1h-1zM278 501h1v1h-1zM279 501h1v1h-1zM280 501h1v1h-1zM281 501h1v1h-1zM282 502h1v1h-1zM283 502h1v1h-1zM284 502h1v1h-1zM285 502h1v1h-1zM286 503h1v1h-1zM287 503h1v1h-1zM288 503h1v1h-1zM289 503h1v1h-1zM290 504h1v1h-1zM291 504h1v1h-1zM292 504h1v1h-1zM293 504h1v1h-1zM294 504h1v1h-1zM295 504h1v1h-1zM296 504h1v1h-1zM297 504h1v1h-1zM298 503h1v1h-1zM299 503h1v1h-1zM300 502h1v1h-1zM301 502h1v1h-1zM302 501h1v1h-1zM303 500h1v1h-1zM304 499h1v1h-1zM305 498h1v1h-1zM306 497h1v1h-1zM307 496h1v1h-1zM308 495h1v1h-1zM309 494h1v1h-1zM310 493h1v1h-1zM311 492h1v1h-1zM312 491h1v1h-1zM313 490h1v1h-1zM314 489h1v1h-1zM315 488h1v1h-1zM316 487h1v1h-1zM317 485h1v2h-1zM318 484h1v1h-1zM319 483h1v1h-1zM320 482h1v1h-1zM321 481h1v1h-1zM322 480h1v1h-1zM323 479h1v1h-1zM324 479h1v1h-1zM325 478h1v1h-1zM326 478h1v1h-1zM327 477h1v1h-1zM328 477h1v1h-1zM329 476h1v1h-1zM330 476h1v1h-1zM331 475h1v1h-1zM332 475h1v1h-1zM333 475h1v1h-1zM334 474h1v1h-1zM335 474h1v1h-1zM336 475h1v1h-1zM337 475h1v1h-1zM338 476h1v1h-1zM339 477h1v1h-1zM340 478h1v1h-1zM341 479h1v2h-1zM342 481h1v1h-1zM343 482h1v1h-1zM344 483h1v1h-1zM345 484h1v2h-1zM346 486h1v1h-1zM347 487h1v1h-1zM348 488h1v1h-1zM349 489h1v2h-1zM350 491h1v1h-1zM351 492h1v1h-1zM352 493h1v1h-1zM353 493h1v1h-1zM354 494h1v1h-1zM355 495h1v1h-1zM356 496h1v1h-1zM357 496h1v1h-1zM358 497h1v1h-1zM359 498h1v1h-1zM360 498h1v1h-1zM361 498h1v1h-1zM362 499h1v1h-1zM363 499h1v1h-1zM364 499h1v1h-1zM365 499h1v1h-1zM366 500h1v1h-1zM367 500h1v1h-1zM368 500h1v1h-1zM369 500h1v1h-1zM370 501h1v1h-1zM371 501h1v1h-1zM372 501h1v1h-1zM373 502h1v1h-1zM374 502h1v1h-1zM375 503h1v1h-1zM376 503h1v1h-1zM377 503h1v1h-1zM378 504h1v1h-1zM379 504h1v1h-1zM380 504h1v1h-1zM381 504h1v1h-1zM382 505h1v1h-1zM383 505h1v1h-1zM384 505h1v1h-1zM385 505h1v1h-1zM386 504h1v1h-1zM387 504h1v1h-1zM388 503h1v1h-1zM389 503h1v1h-1zM390 502h1v1h-1zM391 501h1v1h-1zM392 500h1v1h-1zM393 500h1v1h-1zM394 499h1v1h-1zM395 498h1v1h-1zM396 497h1v1h-1zM397 496h1v1h-1zM398 495h1v1h-1zM399 494h1v1h-1zM400 493h1v1h-1zM401 492h1v1h-1zM402 491h1v1h-1zM403 490h1v1h-1zM404 489h1v1h-1zM405 489h1v1h-1zM406 488h1v1h-1zM407 487h1v1h-1zM408 487h1v1h-1zM409 486h1v1h-1zM410 486h1v1h-1zM411 485h1v1h-1zM412 484h1v1h-1zM413 484h1v1h-1zM414 483h1v1h-1zM415 482h1v1h-1zM416 481h1v1h-1zM417 480h1v1h-1zM418 479h1v1h-1zM419 478h1v1h-1zM420 478h1v1h-1zM421 477h1v1h-1zM422 477h1v1h-1zM423 476h1v1h-1zM424 476h1v1h-1zM425 476h1v1h-1zM426 476h1v1h-1zM427 476h1v1h-1zM428 476h1v1h-1zM429 476h1v1h-1zM430 477h1v1h-1zM431 477h1v1h-1zM432 477h1v1h-1zM433 478h1v1h-1zM434 478h1v1h-1zM435 479h1v1h-1zM436 480h1v1h-1zM437 480h1v1h-1zM438 481h1v1h-1zM439 482h1v1h-1zM440 483h1v1h-1zM441 483h1v1h-1zM442 484h1v1h-1zM443 485h1v1h-1zM444 485h1v1h-1zM445 486h1v1h-1zM446 486h1v1h-1zM447 487h1v1h-1zM448 487h1v1h-1zM449 488h1v1h-1zM450 488h1v1h-1zM451 489h1v1h-1zM452 489h1v1h-1zM453 489h1v1h-1zM454 490h1v1h-1zM455 490h1v1h-1zM456 490h1v1h-1zM457 490h1v1h-1zM458 491h1v1h-1zM459 491h1v1h-1zM460 491h1v1h-1zM461 492h1v1h-1zM462 492h1v1h-1zM463 493h1v1h-1zM464 493h1v1h-1zM465 493h1v1h-1zM466 494h1v1h-1zM467 494h1v1h-1zM468 494h1v1h-1zM469 494h1v1h-1zM470 494h1v1h-1zM471 494h1v1h-1zM472 494h1v1h-1zM473 494h1v1h-1zM474 494h1v1h-1zM475 494h1v1h-1zM476 494h1v1h-1zM477 494h1v1h-1zM478 495h1v1h-1zM479 495h1v1h-1zM480 495h1v1h-1zM481 495h1v1h-1zM482 495h1v1h-1zM483 495h1v1h-1zM484 495h1v1h-1zM485 495h1v1h-1zM486 495h1v1h-1zM487 495h1v1h-1zM488 495h1v1h-1zM489 495h1v1h-1zM490 495h1v1h-1zM491 495h1v1h-1zM492 495h1v1h-1zM493 495h1v1h-1zM494 494h1v1h-1zM495 494h1v1h-1zM496 494h1v1h-1zM497 494h1v1h-1zM498 495h1v1h-1zM499 495h1v1h-1zM500 495h1v1h-1zM501 496h1v1h-1zM502 496h1v1h-1zM503 497h1v1h-1zM504 498h1v1h-1zM505 498h1v1h-1zM506 499h1v1h-1zM507 500h1v1h-1zM508 501h1v1h-1zM509 502h1v2h-1zM510 504h1v1h-1zM511 505h1v1h-1zM512 506h1v1h-1zM513 506h1v1h-1zM514 507h1v1h-1zM515 508h1v1h-1zM516 508h1v1h-1zM517 509h1v1h-1zM518 509h1v1h-1zM519 510h1v1h-1zM520 510h1v1h-1zM521 510h1v1h-1zM522 509h1v1h-1zM523 509h1v1h-1zM524 509h1v1h-1zM525 508h1v1h-1zM526 508h1v1h-1zM527 507h1v1h-1zM528 506h1v1h-1zM529 506h1v1h-1zM530 505h1v1h-1zM531 504h1v1h-1zM532 504h1v1h-1zM533 503h1v1h-1zM534 503h1v1h-1zM535 502h1v1h-1zM536 502h1v1h-1zM537 502h1v1h-1zM538 501h1v1h-1zM539 501h1v1h-1zM540 501h1v1h-1zM541 501h1v1h-1zM542 502h1v1h-1zM543 502h1v1h-1zM544 502h1v1h-1zM545 502h1v1h-1zM546 503h1v1h-1zM547 503h1v1h-1zM548 503h1v1h-1zM549 503h1v1h-1zM550 504h1v1h-1zM551 504h1v1h-1zM552 504h1v1h-1zM553 504h1v1h-1zM554 505h1v1h-1zM555 505h1v1h-1zM556 505h1v1h-1zM557 505h1v1h-1zM558 505h1v1h-1zM559 505h1v1h-1zM560 505h1v1h-1zM561 505h1v1h-1zM562 504h1v1h-1zM563 504h1v1h-1zM564 504h1v1h-1zM565 504h1v1h-1zM566 503h1v1h-1zM567 503h1v1h-1zM568 503h1v1h-1zM569 503h1v1h-1zM570 503h1v1h-1zM571 503h1v1h-1zM572 503h1v1h-1zM573 504h1v1h-1zM574 504h1v1h-1zM575 505h1v1h-1zM576 506h1v1h-1zM577 507h1v2h-1zM578 509h1v1h-1zM579 510h1v1h-1zM580 511h1v1h-1zM581 512h1v2h-1zM582 514h1v1h-1zM583 515h1v1h-1zM584 516h1v2h-1zM585 518h1v2h-1zM586 520h1v2h-1zM587 522h1v1h-1zM588 523h1v1h-1zM589 524h1v2h-1zM590 526h1v1h-1zM591 527h1v1h-1zM592 527h1v1h-1zM593 528h1v1h-1zM594 528h1v1h-1zM595 529h1v1h-1zM596 529h1v1h-1zM597 529h1v1h-1zM598 530h1v1h-1zM599 530h1v1h-1zM600 530h1v1h-1zM601 531h1v1h-1zM602 531h1v1h-1zM603 532h1v1h-1zM604 532h1v1h-1zM605 533h1v1h-1zM606 533h1v1h-1zM607 534h1v1h-1zM608 535h1v1h-1zM609 535h1v1h-1zM610 536h1v1h-1zM611 537h1v1h-1zM612 538h1v1h-1zM613 539h1v2h-1zM614 541h1v1h-1zM615 542h1v1h-1zM616 543h1v1h-1zM617 544h1v1h-1zM618 545h1v1h-1zM619 546h1v1h-1zM620 546h1v1h-1zM621 547h1v1h-1zM622 547h1v1h-1zM623 548h1v1h-1zM624 548h1v1h-1zM625 549h1v1h-1zM626 549h1v1h-1zM627 550h1v1h-1zM628 550h1v1h-1zM629 551h1v1h-1zM630 551h1v1h-1zM631 552h1v1h-1zM632 552h1v1h-1zM633 553h1v1h-1zM634 553h1v1h-1zM635 554h1v1h-1zM636 555h1v1h-1zM637 555h1v1h-1zM638 556h1v1h-1zM639 557h1v1h-1zM640 558h1v1h-1zM641 558h1v1h-1zM642 559h1v1h-1zM643 560h1v1h-1zM644 560h1v1h-1zM645 561h1v1h-1zM646 561h1v1h-1zM647 562h1v1h-1zM648 562h1v1h-1zM649 562h1v1h-1zM650 562h1v1h-1zM651 562h1v1h-1zM652 562h1v1h-1zM653 562h1v1h-1zM654 561h1v1h-1zM655 561h1v1h-1zM656 561h1v1h-1zM657 560h1v1h-1zM658 560h1v1h-1zM659 559h1v1h-1zM660 558h1v1h-1zM661 558h1v1h-1zM662 557h1v1h-1zM663 556h1v1h-1zM664 555h1v1h-1zM665 554h1v1h-1zM666 553h1v1h-1zM667 552h1v1h-1zM668 551h1v1h-1zM669 550h1v1h-1zM670 549h1v1h-1zM671 548h1v1h-1zM672 547h1v1h-1zM673 546h1v1h-1zM674 545h1v1h-1zM675 544h1v1h-1zM676 544h1v1h-1zM677 544h1v1h-1zM678 544h1v1h-1zM679 544h1v1h-1zM680 544h1v1h-1zM681 544h1v1h-1zM682 545h1v1h-1zM683 545h1v1h-1zM684 545h1v1h-1zM685 546h1v1h-1zM686 546h1v1h-1zM687 547h1v1h-1zM688 548h1v2h-1zM689 550h1v1h-1zM690 551h1v2h-1zM691 553h1v1h-1zM692 554h1v2h-1zM693 556h1v1h-1zM694 557h1v2h-1zM695 559h1v1h-1zM696 560h1v1h-1zM697 561h1v2h-1zM698 563h1v1h-1zM699 564h1v1h-1zM700 565h1v1h-1zM701 566h1v1h-1zM702 567h1v1h-1zM703 568h1v1h-1zM704 568h1v1h-1zM705 568h1v1h-1zM706 568h1v1h-1zM707 568h1v1h-1zM708 567h1v1h-1zM709 567h1v1h-1zM710 566h1v1h-1zM711 565h1v1h-1zM712 563h1v2h-1zM713 561h1v2h-1zM714 559h1v2h-1zM715 558h1v1h-1zM716 556h1v2h-1zM717 554h1v2h-1zM718 552h1v2h-1zM719 551h1v1h-1zM720 549h1v2h-1zM721 547h1v2h-1zM722 545h1v2h-1zM723 544h1v1h-1zM724 543h1v1h-1zM725 541h1v2h-1zM726 540h1v1h-1zM727 539h1v1h-1zM728 538h1v1h-1zM729 537h1v1h-1zM730 536h1v1h-1zM731 535h1v1h-1z" fill="#0000FF"/>
<rect x="2" y="2" width="756" height="1" fill="#000"/>
<rect x="2" y="420" width="756" height="1" fill="#000"/>
<rect x="2" y="2" width="1" height="419" fill="#000"/>
<rect x="757" y="2" width="1" height="419" fill="#000"/>
<rect x="2" y="422" width="756" height="1" fill="#000"/>
<rect x="2" y="579" width="757" height="1" fill="#000"/>
<rect x="2" y="422" width="1" height="158" fill="#000"/>
<rect x="757" y="422" width="1" height="158" fill="#000"/>
<rect x="758" y="21" width="2" height="1" fill="#000"/>
<rect x="758" y="54" width="2" height="1" fill="#000"/>
<rect x="758" y="87" width="2" height="1" fill="#000"/>
<rect x="758" y="120" width="2" height="1" fill="#000"/>
<rect x="758" y="153" width="2" height="1" fill="#000"/>
<rect x="758" y="186" width="2" height="1" fill="#000"/>
<rect x="758" y="219" width="2" height="1" fill="#000"/>
<rect x="758" y="252" width="2" height="1" fill="#000"/>
<rect x="758" y="285" width="2" height="1" fill="#000"/>
<rect x="758" y="318" width="2" height="1" fill="#000"/>
<rect x="758" y="351" width="2" height="1" fill="#000"/>
<rect x="758" y="384" width="2" height="1" fill="#000"/>
<rect x="758" y="417" width="2" height="1" fill="#000"/>
<rect x="758" y="424" width="1" height="1" fill="#000"/>
<rect x="758" y="495" width="2" height="1" fill="#000"/>
<rect x="3" y="580" width="1" height="3" fill="#000"/>
<rect x="67" y="580" width="1" height="3" fill="#000"/>
<rect x="131" y="580" width="1" height="3" fill="#000"/>
<rect x="195" y="580" width="1" height="3" fill="#000"/>
<rect x="259" y="580" width="1" height="3" fill="#000"/>
<rect x="323" y="580" width="1" height="3" fill="#000"/>
<rect x="387" y="580" width="1" height="3" fill="#000"/>
<rect x="451" y="580" width="1" height="3" fill="#000"/>
<rect x="515" y="580" width="1" height="3" fill="#000"/>
<rect x="579" y="580" width="1" height="3" fill="#000"/>
<rect x="643" y="580" width="1" height="3" fill="#000"/>
<rect x="707" y="580" width="1" height="3" fill="#000"/>
<path d="M6 9h7v1h-1v1h-1v1h-1v1h-1v-1h-1v-1h-1v-1h-1z" fill="#000"/>
</g>
<g shape-rendering="crispEdges">
</g>
<text x="763.6" y="25" textLength="32.6" lengthAdjust="spacingAndGlyphs">1.18195</text>
<text x="763.6" y="58" textLength="32.6" lengthAdjust="spacingAndGlyphs">1.17940</text>
<text x="763.6" y="91" textLength="32.6" lengthAdjust="spacingAndGlyphs">1.17690</text>
<text x="763.6" y="124" textLength="32.6" lengthAdjust="spacingAndGlyphs">1.17435</text>
<text x="763.6" y="157" textLength="32.6" lengthAdjust="spacingAndGlyphs">1.17185</text>
<text x="763.6" y="190" textLength="32.6" lengthAdjust="spacingAndGlyphs">1.16930</text>
<text x="763.6" y="223" textLength="32.6" lengthAdjust="spacingAndGlyphs">1.16675</text>
<text x="763.6" y="256" textLength="32.6" lengthAdjust="spacingAndGlyphs">1.16425</text>
<text x="763.6" y="289" textLength="32.6" lengthAdjust="spacingAndGlyphs">1.16170</text>
<text x="763.6" y="322" textLength="32.6" lengthAdjust="spacingAndGlyphs">1.15915</text>
<text x="763.6" y="355" textLength="32.6" lengthAdjust="spacingAndGlyphs">1.15665</text>
<text x="763.6" y="388" textLength="32.6" lengthAdjust="spacingAndGlyphs">1.15410</text>
<text x="763.6" y="421" textLength="32.6" lengthAdjust="spacingAndGlyphs">1.15160</text>
<rect x="759" y="22" width="41" height="11" fill="#FF0000" shape-rendering="crispEdges"/>
<text x="763.6" y="31" class="w" textLength="32.6" lengthAdjust="spacingAndGlyphs">1.18139</text>
<rect x="759" y="149" width="41" height="11" fill="#FF0000" shape-rendering="crispEdges"/>
<text x="763.6" y="158" class="w" textLength="32.6" lengthAdjust="spacingAndGlyphs">1.17172</text>
<rect x="759" y="235" width="41" height="11" fill="#FF0000" shape-rendering="crispEdges"/>
<text x="763.6" y="244" class="w" textLength="32.6" lengthAdjust="spacingAndGlyphs">1.16510</text>
<rect x="759" y="342" width="41" height="11" fill="#FF0000" shape-rendering="crispEdges"/>
<text x="763.6" y="351" class="w" textLength="32.6" lengthAdjust="spacingAndGlyphs">1.15692</text>
<rect x="759" y="398" width="41" height="11" fill="#FF0000" shape-rendering="crispEdges"/>
<text x="763.6" y="407" class="w" textLength="32.6" lengthAdjust="spacingAndGlyphs">1.15259</text>
<rect x="759" y="289" width="41" height="11" fill="#000" shape-rendering="crispEdges"/>
<text x="763.6" y="298" class="w" textLength="32.6" lengthAdjust="spacingAndGlyphs">1.16091</text>
<text x="761.5" y="433" textLength="43" lengthAdjust="spacingAndGlyphs">0.0056976</text>
<text x="761.5" y="499" textLength="18" lengthAdjust="spacingAndGlyphs">0.00</text>
<text x="761" y="576" textLength="41" lengthAdjust="spacingAndGlyphs">-0.006582</text>
<text x="2" y="592" textLength="52" lengthAdjust="spacingAndGlyphs">19 Sep 2018</text>
<text x="66" y="592" textLength="55" lengthAdjust="spacingAndGlyphs">19 Sep 23:00</text>
<text x="130" y="592" textLength="55" lengthAdjust="spacingAndGlyphs">20 Sep 15:00</text>
<text x="194" y="592" textLength="55" lengthAdjust="spacingAndGlyphs">21 Sep 07:00</text>
<text x="258" y="592" textLength="55" lengthAdjust="spacingAndGlyphs">24 Sep 00:00</text>
<text x="322" y="592" textLength="55" lengthAdjust="spacingAndGlyphs">24 Sep 16:00</text>
<text x="386" y="592" textLength="55" lengthAdjust="spacingAndGlyphs">25 Sep 08:00</text>
<text x="450" y="592" textLength="55" lengthAdjust="spacingAndGlyphs">26 Sep 00:00</text>
<text x="514" y="592" textLength="55" lengthAdjust="spacingAndGlyphs">26 Sep 16:00</text>
<text x="578" y="592" textLength="55" lengthAdjust="spacingAndGlyphs">27 Sep 08:00</text>
<text x="642" y="592" textLength="55" lengthAdjust="spacingAndGlyphs">28 Sep 00:00</text>
<text x="706" y="592" textLength="55" lengthAdjust="spacingAndGlyphs">28 Sep 16:00</text>
<text x="18" y="14" textLength="54" lengthAdjust="spacingAndGlyphs">EURUSD,H1</text>
<text x="78" y="14" textLength="33" lengthAdjust="spacingAndGlyphs">1.16086</text>
<text x="114" y="14" textLength="33" lengthAdjust="spacingAndGlyphs">1.16116</text>
<text x="150" y="14" textLength="33" lengthAdjust="spacingAndGlyphs">1.16085</text>
<text x="186" y="14" textLength="33" lengthAdjust="spacingAndGlyphs">1.16091</text>
<text x="7.4" y="435" textLength="85" lengthAdjust="spacingAndGlyphs">MACD_color(5,34,5)</text>
<text x="95.6" y="435" textLength="48" lengthAdjust="spacingAndGlyphs">0.00000000</text>
<text x="146" y="435" textLength="48" lengthAdjust="spacingAndGlyphs">0.00000000</text>
<text x="197" y="435" textLength="51" lengthAdjust="spacingAndGlyphs">-0.00308114</text>
</svg></body></html>
